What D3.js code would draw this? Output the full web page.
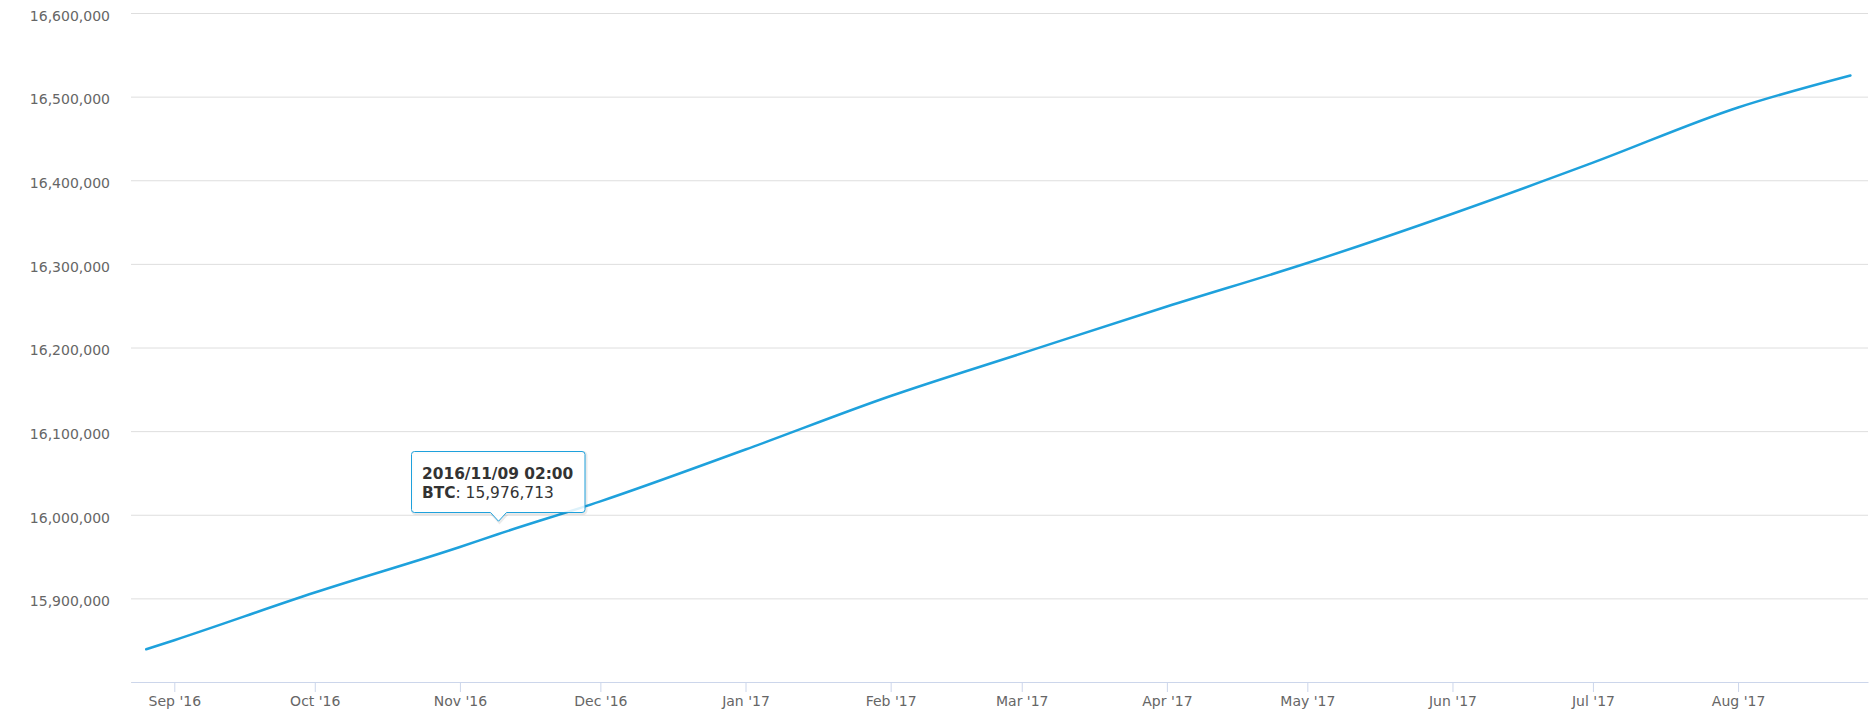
<!DOCTYPE html>
<html>
<head>
<meta charset="utf-8">
<script src="https://cdn.jsdelivr.net/npm/d3@7"></script>
<style>
body { margin: 0; background: #fff; }
text { font-family: "DejaVu Sans", sans-serif; }
</style>
</head>
<body>
<div id="chart"></div>
<script>
// Values (BTC in circulation)
var dates = ["2016-08-26", "2016-09-01", "2016-10-01", "2016-11-01", "2016-11-09T02:00",
  "2016-12-01", "2017-01-01", "2017-02-01", "2017-03-01", "2017-04-01",
  "2017-05-01", "2017-06-01", "2017-07-01", "2017-08-01", "2017-08-25"];
var supply = [15839100, 15850000, 15907000, 15961500, 15976713,
  16016000, 16078000, 16142000, 16193000, 16249000,
  16301000, 16360000, 16421000, 16487000, 16525300];
var yTicks = [15900000, 16000000, 16100000, 16200000, 16300000, 16400000, 16500000, 16600000];
var gridTicks = [15800000].concat(yTicks);
var xDomain = ["2016-08-22T18:00", "2017-08-28T18:00"];
var yDomain = [15800000, 16600000];
var seriesName = "BTC";
var tipDate = "2016/11/09 02:00";
var tipIndex = 4;

//Width and height and svg parameters
var svgWidth = 1874;
var svgHeight = 715;
var plot = { left: 131, right: 1868, top: 13, bottom: 682 };

var parseDate = d3.utcParse("%Y-%m-%dT%H:%M");
function toDate(s) {
  return s.length > 10 ? parseDate(s) : parseDate(s + "T00:00");
}

var data = dates.map(function (d, i) {
  return { date: toDate(d), value: supply[i] };
});

var svg = d3.select("#chart")
  .append("svg")
  .attr("width", svgWidth)
  .attr("height", svgHeight);

var xScale = d3.scaleUtc()
  .domain(xDomain.map(toDate))
  .range([plot.left, plot.right]);

var yScale = d3.scaleLinear()
  .domain(yDomain)
  .range([plot.bottom, plot.top]);

// Grid + y labels
var leftAxis = d3.axisLeft(yScale)
  .tickValues(gridTicks)
  .tickSize(-(plot.right - plot.left))
  .tickPadding(21)
  .tickFormat(function (d) { return d === yDomain[0] ? "" : d3.format(",")(d); });

var yAxisG = svg.append("g")
  .attr("transform", `translate(${plot.left}, 0)`)
  .call(leftAxis);
yAxisG.select(".domain").remove();
yAxisG.selectAll("line").attr("stroke", "#dedede");
yAxisG.selectAll("text")
  .attr("dy", "0.52em")
  .attr("fill", "#666")
  .style("font-size", "14px")
  .style("font-family", "DejaVu Sans");

// y axis title, clipped at the page edge like in the reference
svg.append("clipPath").attr("id", "titleClip")
  .append("rect").attr("x", 10).attr("y", 300).attr("width", 20).attr("height", 100);
svg.append("text")
  .attr("clip-path", "url(#titleClip)")
  .attr("transform", "translate(14, 347) rotate(-90)")
  .attr("text-anchor", "middle")
  .attr("fill", "#666")
  .style("font-size", "14px")
  .text(seriesName);

// x axis
var bottomAxis = d3.axisBottom(xScale)
  .ticks(d3.utcMonth.every(1))
  .tickFormat(d3.utcFormat("%b '%y"))
  .tickSize(10)
  .tickSizeOuter(0)
  .tickPadding(4);

var xAxisG = svg.append("g")
  .attr("transform", `translate(0, ${plot.bottom})`)
  .call(bottomAxis);
xAxisG.select(".domain").attr("stroke", "#ccd6eb");
xAxisG.selectAll("line").attr("stroke", "#ccd6eb");
xAxisG.selectAll("text")
  .attr("fill", "#666")
  .style("font-size", "14px")
  .style("font-family", "DejaVu Sans");

// series line
var line = d3.line()
  .curve(d3.curveMonotoneX)
  .x(d => xScale(d.date))
  .y(d => yScale(d.value));

svg.append("path")
  .datum(data)
  .attr("fill", "none")
  .attr("stroke", "#1ea1dc")
  .attr("stroke-width", 2.5)
  .attr("stroke-linejoin", "round")
  .attr("stroke-linecap", "round")
  .attr("d", line);

// tooltip callout
var tp = data[tipIndex];
var px = xScale(tp.date);
var py = yScale(tp.value);
var bx0 = Math.round(px) - 86.5, bx1 = bx0 + 173.5;
var by1 = Math.round(py) - 21.5, by0 = by1 - 61;
var r = 3, ax = Math.round(px) + 0.5, ay = py - 13;

var tipPath = d3.path();
tipPath.moveTo(bx0 + r, by0);
tipPath.lineTo(bx1 - r, by0);
tipPath.arcTo(bx1, by0, bx1, by0 + r, r);
tipPath.lineTo(bx1, by1 - r);
tipPath.arcTo(bx1, by1, bx1 - r, by1, r);
tipPath.lineTo(ax + 8, by1);
tipPath.lineTo(ax, ay);
tipPath.lineTo(ax - 8, by1);
tipPath.lineTo(bx0 + r, by1);
tipPath.arcTo(bx0, by1, bx0, by1 - r, r);
tipPath.lineTo(bx0, by0 + r);
tipPath.arcTo(bx0, by0, bx0 + r, by0, r);
tipPath.closePath();

var tipG = svg.append("g");
tipG.append("path")
  .attr("d", tipPath.toString())
  .attr("transform", "translate(1,1)")
  .attr("fill", "none")
  .attr("stroke", "rgba(0,0,0,0.08)")
  .attr("stroke-width", 3);
tipG.append("path")
  .attr("d", tipPath.toString())
  .attr("fill", "rgba(255,255,255,0.85)")
  .attr("stroke", "#1ea1dc")
  .attr("stroke-width", 1);

tipG.append("text")
  .attr("x", bx0 + 10.5)
  .attr("y", by0 + 27)
  .attr("fill", "#333")
  .style("font-size", "15.4px")
  .style("font-weight", "bold")
  .text(tipDate);

var tipLine2 = tipG.append("text")
  .attr("x", bx0 + 10.5)
  .attr("y", by0 + 46)
  .attr("fill", "#333")
  .style("font-size", "15.4px");
tipLine2.append("tspan").style("font-weight", "bold").text(seriesName);
tipLine2.append("tspan").text(": " + d3.format(",")(tp.value));
</script>
</body>
</html>
